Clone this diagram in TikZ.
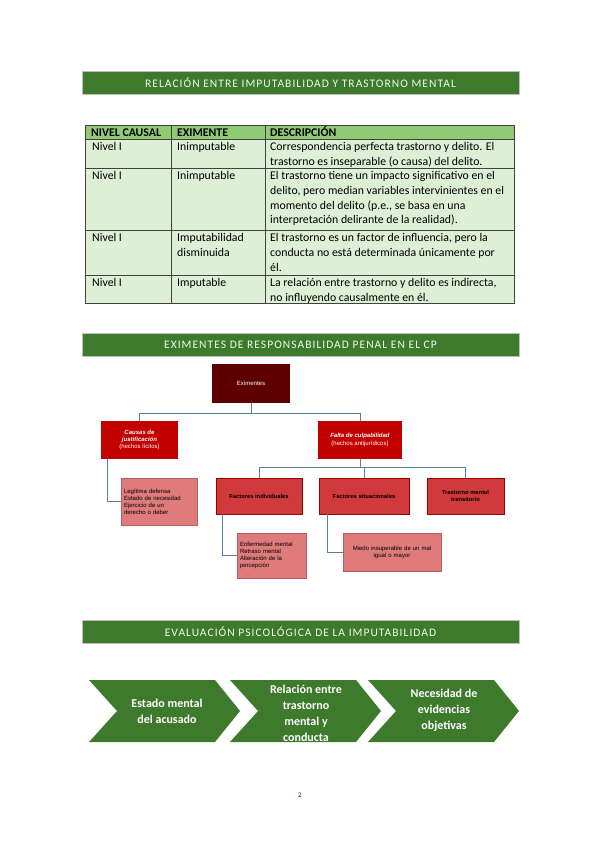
\documentclass[tikz,border=0pt]{standalone}
\usepackage{fontspec}
\setmainfont{Carlito}
\newfontfamily\titlefont[LetterSpace=9]{Carlito}
\newfontfamily\chartfont{Liberation Sans}
\usetikzlibrary{positioning}
\definecolor{bandgreen}{HTML}{3E7A2C}
\definecolor{headgreen}{HTML}{8FCB74}
\definecolor{cellgreen}{HTML}{DDEFD4}
\definecolor{darkred}{HTML}{5E0000}
\definecolor{boxred}{HTML}{C20000}
\definecolor{midred}{HTML}{D03A3A}
\definecolor{pinkred}{HTML}{E07B7B}
\definecolor{linkblue}{HTML}{5A7EA2}

\begin{document}
\begin{tikzpicture}[x=1pt,y=-1pt,
  band/.style={fill=bandgreen, draw=gray!50, line width=0.4pt, minimum width=437pt, minimum height=23pt, inner sep=0pt, text=white!92!green, font=\titlefont\fontsize{11.5}{12}\selectfont},
  grid/.style={draw=black!75, line width=0.6pt},
  cell/.style={anchor=north west, inner sep=0pt, align=left, font=\fontsize{11.8}{14.7}\selectfont},
  head/.style={anchor=base west, inner sep=0pt, font=\bfseries\fontsize{11.8}{14.7}\selectfont},
  topbox/.style={fill=darkred, text=white, minimum width=78pt, minimum height=39pt, inner sep=1pt, font=\chartfont\fontsize{6}{7}\selectfont},
  redbox/.style={fill=boxred, text=white, minimum height=38pt, inner sep=1pt, align=center, font=\chartfont\fontsize{6}{7.3}\selectfont},
  factbox/.style={fill=midred, draw=boxred!80!black, line width=0.3pt, minimum height=36pt, inner sep=1pt, align=center, font=\chartfont\bfseries\fontsize{5.8}{6.8}\selectfont},
  listbox/.style={fill=pinkred, draw=pinkred!80!black, line width=0.3pt, inner sep=3pt, font=\chartfont\fontsize{6}{7}\selectfont},
  link/.style={draw=linkblue, line width=1pt},
  chev/.style={fill=bandgreen},
  chevtext/.style={text=white, align=center, font=\bfseries\fontsize{12}{16}\selectfont}
]
\fill[white] (0,0) rectangle (599,848);
\useasboundingbox (0,0) rectangle (599,848);

% first section
\node[band] (bandA) at (300.5,82.5) {RELACIÓN ENTRE IMPUTABILIDAD Y TRASTORNO MENTAL};

\fill[headgreen] (85,125) rectangle (514,139);
\fill[cellgreen] (85,139) rectangle (514,303);
\draw[grid] (85,125) rectangle (514,303);
\foreach \y in {139,168,230,275} \draw[grid] (85,\y) -- (514,\y);
\foreach \x in {171,265} \draw[grid] (\x,125) -- (\x,303);

\node[head] (h1) at (91,136) {NIVEL CAUSAL};
\node[head] (h2) at (177,136) {EXIMENTE};
\node[head] (h3) at (270,136) {DESCRIPCIÓN};

\node[cell] (a1) at (92,142.5) {Nivel I};
\node[cell] (a2) at (177,142.5) {Inimputable};
\node[cell] (a3) at (270,142.5) {Correspondencia perfecta trastorno y delito. El\\trastorno es inseparable (o causa) del delito.};
\node[cell] (b1) at (92,171.5) {Nivel I};
\node[cell] (b2) at (177,171.5) {Inimputable};
\node[cell] (b3) at (270,171.5) {El trastorno tiene un impacto significativo en el\\delito, pero median variables intervinientes en el\\momento del delito (p.e., se basa en una\\interpretación delirante de la realidad).};
\node[cell] (c1) at (92,233.5) {Nivel I};
\node[cell] (c2) at (177,233.5) {Imputabilidad\\disminuida};
\node[cell] (c3) at (270,233.5) {El trastorno es un factor de influencia, pero la\\conducta no está determinada únicamente por\\él.};
\node[cell] (d1) at (92,278.5) {Nivel I};
\node[cell] (d2) at (177,278.5) {Imputable};
\node[cell] (d3) at (270,278.5) {La relación entre trastorno y delito es indirecta,\\no influyendo causalmente en él.};

% second section
\node[band] (bandB) at (300.5,345) {EXIMENTES DE RESPONSABILIDAD PENAL EN EL CP};

\node[topbox] (exim) at (251,383.5) {Eximentes};
\node[redbox, minimum width=77pt] (causas) at (139.5,440) {\textbf{\textit{Causas de}}\\\textbf{\textit{justificación}}\\(hechos lícitos)};
\node[redbox, minimum width=84pt] (falta) at (360,440) {\textbf{\textit{Falta de culpabilidad}}\\(hechos antijurídicos)};

\node[factbox, minimum width=86pt] (indiv) at (259,496) {Factores individuales};
\node[factbox, minimum width=90pt] (situa) at (364,496) {Factores situacionales};
\node[factbox, minimum width=77pt] (trans) at (465.5,496) {Trastorno mental\\transitorio};

\node[listbox, minimum width=76pt, minimum height=47pt, text width=70pt, align=left] (listA) at (159,501.5) {Legítima defensa\\Estado de necesidad\\Ejercicio de un\\derecho o deber};
\node[listbox, minimum width=69pt, minimum height=45pt, text width=63pt, align=left] (listB) at (271.5,555.5) {Enfermedad mental\\Retraso mental\\Alteración de la\\percepción};
\node[listbox, minimum width=98pt, minimum height=38pt, text width=92pt, align=center] (listC) at (392,552) {Miedo insuperable de un mal\\igual o mayor};

\draw[link] (exim.south) -- ++(0,10) -| (causas.north);
\draw[link] (exim.south) -- ++(0,10) -| (falta.north);
\draw[link] (falta.south) -- ++(0,8) -| (indiv.north);
\draw[link] (falta.south) -- ++(0,8) -| (situa.north);
\draw[link] (falta.south) -- ++(0,8) -| (trans.north);
\draw[link] ([xshift=7pt]causas.south west) |- (listA.west);
\draw[link] ([xshift=7pt]indiv.south west) |- (listB.west);
\draw[link] ([xshift=9pt]situa.south west) |- (listC.west);

% third section
\node[band] (bandC) at (300.5,632) {EVALUACIÓN PSICOLÓGICA DE LA IMPUTABILIDAD};

\foreach \x in {89,230,368}
  \fill[chev] (\x,680) -- ++(126,0) -- ++(25,31) -- ++(-25,31) -- ++(-126,0) -- ++(28,-31) -- cycle;

\node[chevtext] (stepA) at (167,711) {Estado mental\\del acusado};
\node[chevtext] (stepB) at (306,713) {Relación entre\\trastorno\\mental y\\conducta};
\node[chevtext] (stepC) at (444,710) {Necesidad de\\evidencias\\objetivas};

\node[text=bandgreen, font=\bfseries\fontsize{7}{8}\selectfont] (page) at (300,795) {2};
\end{tikzpicture}
\end{document}
